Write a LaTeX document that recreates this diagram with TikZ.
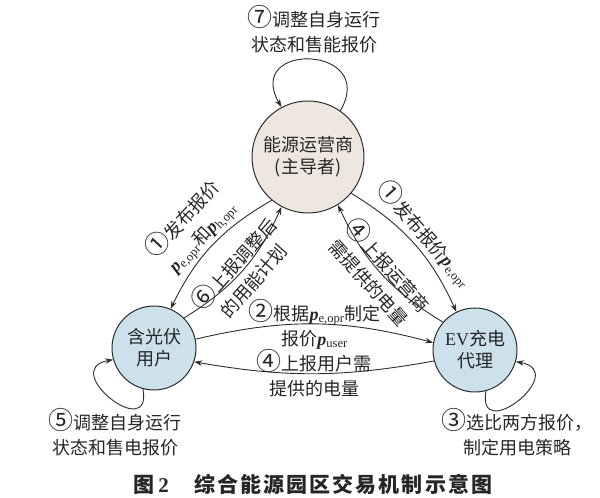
\documentclass[tikz,border=0pt]{standalone}
\usepackage{fontspec}
\setmainfont{Liberation Serif}
\newfontfamily\cjk{Noto Sans CJK SC}
\newfontfamily\capfont[LetterSpace=10]{Noto Sans CJK SC}
\usetikzlibrary{arrows.meta, positioning}
\definecolor{opfill}{RGB}{238,231,224}
\definecolor{userfill}{RGB}{204,225,236}
\definecolor{edgegray}{RGB}{45,45,45}
\newcommand{\pv}[1]{{\rmfamily\bfseries\itshape p}\textsubscript{\rmfamily #1}}
\newcommand{\cnum}[1]{{\fontsize{25}{25}\selectfont #1}}

\begin{document}
\begin{tikzpicture}[
		x=1pt, y=1pt,
		>={Stealth[length=8pt, width=5.5pt]},
		every node/.style={
				font=\cjk\fontsize{18}{25}\selectfont,
				text=black!85
			},
		agent/.style={
				circle,
				draw=edgegray,
				line width=1pt,
				align=center,
				inner sep=0pt,
				font=\cjk\fontsize{18}{22}\selectfont
			},
		link/.style={->, draw=edgegray, line width=0.9pt},
		tag/.style={align=center, inner sep=1.5pt}
	]
	\useasboundingbox (0, 0) rectangle (600, 498);

	\node[agent, fill=opfill, minimum size=112pt] (op) at (308, 341) {能源运营商\\(主导者)};
	\node[agent, fill=userfill, minimum size=84pt] (pv) at (154, 150) {含光伏\\用户};
	\node[agent, fill=userfill, minimum size=84pt] (ev) at (475, 148) {{\rmfamily EV}充电\\代理};

	% self loops
	\draw[link] (op.55) to[out=60, in=120, looseness=3.3] (op.118);
	\draw[link] (pv.255) to[out=280, in=190, looseness=3.4] (pv.196);
	\draw[link] (ev.285) to[out=260, in=350, looseness=3.4] (ev.344);

	\node[tag] (note7) at (314, 469) {\cnum{⑦}调整自身运行\\状态和售能报价};
	\node[tag] (note5) at (115, 66) {\cnum{⑤}调整自身运行\\状态和售电报价};
	\node[tag] (note3) at (517, 66) {\cnum{③}选比两方报价，\\制定用电策略};

	% operator <-> PV user
	\draw[link] (op.230) to[bend right=17] node[tag, midway, sloped, above] {\cnum{①}发布报价\\\pv{e,opr}和\pv{h,opr}} (pv.67);
	\draw[link] (pv.45) to[bend right=17] node[tag, midway, sloped] {\cnum{⑥}上报调整后\\的用能计划} (op.242);

	% operator <-> EV agent
	\draw[link] (op.320) to[bend left=17] node[tag, midway, sloped, above] {\cnum{①}发布报价\pv{e,opr}} (ev.116);
	\draw[link] (ev.139) to[bend left=17] node[tag, midway, sloped] {\cnum{④}上报运营商\\需提供的电量} (op.302);

	% PV user <-> EV agent
	\draw[link] (pv.12) to[bend left=14] node[tag, midway] {\cnum{②}根据\pv{e,opr}制定\\报价\pv{user}} (ev.170);
	\draw[link] (ev.195) to[bend left=10] node[tag, midway] {\cnum{④}上报用户需\\提供的电量} (pv.341);

	\node[inner sep=0pt, font=\capfont\fontsize{21}{24}\selectfont\bfseries] (caption) at (313, 14) {图\,{\rmfamily\bfseries 2}\hspace{1.2em}综合能源园区交易机制示意图};
\end{tikzpicture}
\end{document}
